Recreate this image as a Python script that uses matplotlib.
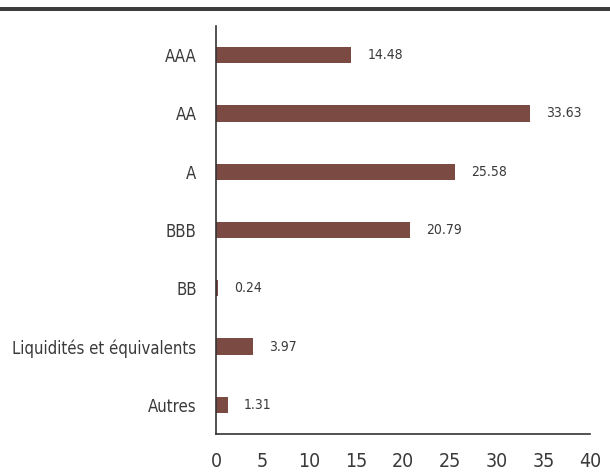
import matplotlib
matplotlib.use("Agg")
import matplotlib.pyplot as plt
from matplotlib.patches import Rectangle

categories = ["AAA", "AA", "A", "BBB", "BB", "Liquidités et équivalents", "Autres"]
values = [14.48, 33.63, 25.58, 20.79, 0.24, 3.97, 1.31]
xticks = [0, 5, 10, 15, 20, 25, 30, 35, 40]

plt.rcParams['font.family'] = ['DejaVu Sans']
plt.rcParams['font.stretch'] = 'condensed'
text_color = '#3a3a3a'
bar_color = '#7b4a42'

fig = plt.figure(figsize=(6.1, 4.74), dpi=100)
ax = fig.add_axes([216 / 610, 40 / 474, (590 - 216) / 610, (434 - 26) / 474])

pos = list(range(len(categories)))[::-1]
ax.barh(pos, values, height=0.28, color=bar_color)
for p, v in zip(pos, values):
    ax.text(v + 1.7, p, f"{v:.2f}", va='center', ha='left', fontsize=10, color=text_color)

ax.set_xlim(0, 40)
ax.set_ylim(-0.5, 6.5)
ax.set_yticks(pos)
ax.set_yticklabels(categories, fontsize=12, color=text_color)
ax.set_xticks(xticks)
ax.set_xticklabels([str(t) for t in xticks], fontsize=14, color=text_color)
ax.tick_params(axis='both', length=0)
ax.tick_params(axis='y', pad=14)
ax.tick_params(axis='x', pad=13)
for s in ['top', 'right']:
    ax.spines[s].set_visible(False)
for s in ['left', 'bottom']:
    ax.spines[s].set_color('#333333')
    ax.spines[s].set_linewidth(1.2)

# dark band across the top
fig.add_artist(Rectangle((0, 1 - 11 / 474), 1, 4 / 474, transform=fig.transFigure,
                         color='#3c3c3c', lw=0))

fig.savefig("out.png", dpi=100)
